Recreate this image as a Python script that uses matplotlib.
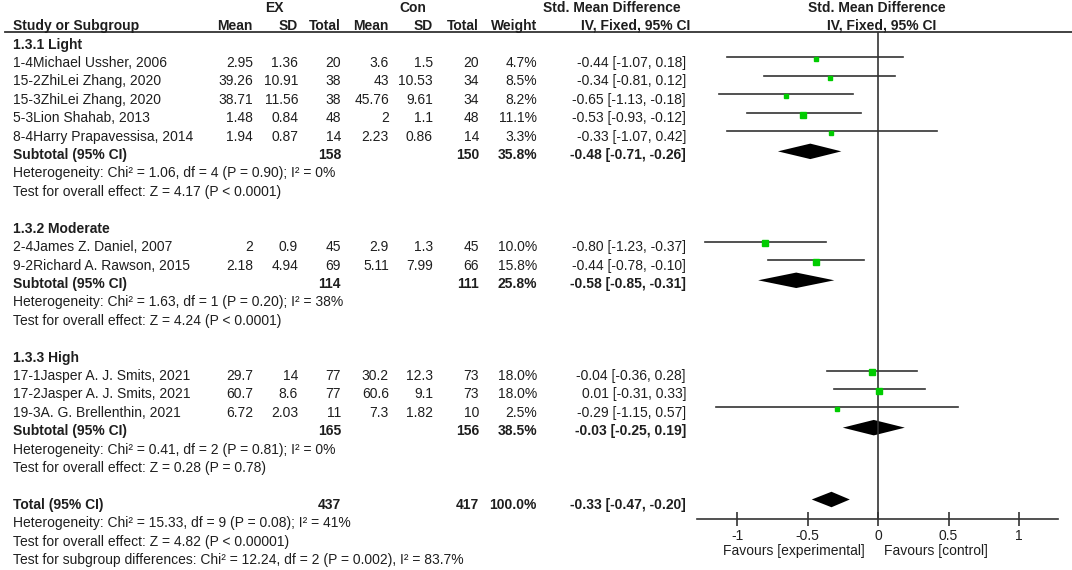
import numpy as np
import matplotlib.pyplot as plt

plt.rcParams['font.family'] = ['Liberation Sans', 'DejaVu Sans']
plt.rcParams['axes.unicode_minus'] = False

# study level data
studies = ["1-4Michael Ussher, 2006", "15-2ZhiLei Zhang, 2020", "15-3ZhiLei Zhang, 2020",
           "5-3Lion Shahab, 2013", "8-4Harry Prapavessisa, 2014",
           "2-4James Z. Daniel, 2007", "9-2Richard A. Rawson, 2015",
           "17-1Jasper A. J. Smits, 2021", "17-2Jasper A. J. Smits, 2021", "19-3A. G. Brellenthin, 2021"]
group = [0, 0, 0, 0, 0, 1, 1, 2, 2, 2]
ex_mean = [2.95, 39.26, 38.71, 1.48, 1.94, 2, 2.18, 29.7, 60.7, 6.72]
ex_sd = [1.36, 10.91, 11.56, 0.84, 0.87, 0.9, 4.94, 14, 8.6, 2.03]
ex_n = [20, 38, 38, 48, 14, 45, 69, 77, 77, 11]
con_mean = [3.6, 43, 45.76, 2, 2.23, 2.9, 5.11, 30.2, 60.6, 7.3]
con_sd = [1.5, 10.53, 9.61, 1.1, 0.86, 1.3, 7.99, 12.3, 9.1, 1.82]
con_n = [20, 34, 34, 48, 14, 45, 66, 73, 73, 10]
weight = [4.7, 8.5, 8.2, 11.1, 3.3, 10.0, 15.8, 18.0, 18.0, 2.5]
smd = [-0.44, -0.34, -0.65, -0.53, -0.33, -0.80, -0.44, -0.04, 0.01, -0.29]
ci_lo = [-1.07, -0.81, -1.13, -0.93, -1.07, -1.23, -0.78, -0.36, -0.31, -1.15]
ci_hi = [0.18, 0.12, -0.18, -0.12, 0.42, -0.37, -0.10, 0.28, 0.33, 0.57]

# subgroup data
groups = ["1.3.1 Light", "1.3.2 Moderate", "1.3.3 High"]
sub_ex_n = [158, 114, 165]
sub_con_n = [150, 111, 156]
sub_w = [35.8, 25.8, 38.5]
sub_est = [-0.48, -0.58, -0.03]
sub_lo = [-0.71, -0.85, -0.25]
sub_hi = [-0.26, -0.31, 0.19]
sub_het = ["Heterogeneity: Chi\u00b2 = 1.06, df = 4 (P = 0.90); I\u00b2 = 0%",
           "Heterogeneity: Chi\u00b2 = 1.63, df = 1 (P = 0.20); I\u00b2 = 38%",
           "Heterogeneity: Chi\u00b2 = 0.41, df = 2 (P = 0.81); I\u00b2 = 0%"]
sub_test = ["Test for overall effect: Z = 4.17 (P < 0.0001)",
            "Test for overall effect: Z = 4.24 (P < 0.0001)",
            "Test for overall effect: Z = 0.28 (P = 0.78)"]

# overall
tot_ex_n, tot_con_n, tot_w = 437, 417, 100.0
tot_est, tot_lo, tot_hi = -0.33, -0.47, -0.20
tot_notes = ["Heterogeneity: Chi\u00b2 = 15.33, df = 9 (P = 0.08); I\u00b2 = 41%",
             "Test for overall effect: Z = 4.82 (P < 0.00001)",
             "Test for subgroup differences: Chi\u00b2 = 12.24, df = 2 (P = 0.002), I\u00b2 = 83.7%"]

xticks = [-1, -0.5, 0, 0.5, 1]
xticklabels = ["-1", "-0.5", "0", "0.5", "1"]

W, H = 1072, 570
fig = plt.figure(figsize=(W / 100, H / 100), dpi=100)
ax0 = fig.add_axes([0, 0, 1, 1])
ax0.set_xlim(0, W)
ax0.set_ylim(H, 0)
ax0.axis('off')

FS = 10
TXT = '#1e1e1e'
GREEN = '#00cc00'
Y0, PITCH = 43.5, 18.42

# column right edges (pixels)
cols = [253, 298, 341, 389, 433, 479, 537]
eff_x = 686


def ypix(i):
    return Y0 + PITCH * i + 5


def put(x, i, s, ha='left', bold=False):
    ax0.text(x, ypix(i), s, ha=ha, va='baseline', fontsize=FS, color=TXT,
             fontweight='bold' if bold else 'normal')


# headers
ax0.text(274, 12, "EX", ha='center', va='baseline', fontsize=FS, fontweight='bold', color=TXT)
ax0.text(413, 12, "Con", ha='center', va='baseline', fontsize=FS, fontweight='bold', color=TXT)
ax0.text(681, 12, "Std. Mean Difference", ha='right', va='baseline', fontsize=FS, fontweight='bold', color=TXT)
ax0.text(877, 12, "Std. Mean Difference", ha='center', va='baseline', fontsize=FS, fontweight='bold', color=TXT)
ax0.text(13, 30, "Study or Subgroup", ha='left', va='baseline', fontsize=FS, fontweight='bold', color=TXT)
for x, s in zip(cols, ["Mean", "SD", "Total", "Mean", "SD", "Total", "Weight"]):
    ax0.text(x, 30, s, ha='right', va='baseline', fontsize=FS, fontweight='bold', color=TXT)
ax0.text(690, 30, "IV, Fixed, 95% CI", ha='right', va='baseline', fontsize=FS, fontweight='bold', color=TXT)
ax0.text(882, 30, "IV, Fixed, 95% CI", ha='center', va='baseline', fontsize=FS, fontweight='bold', color=TXT)
ax0.plot([5, W], [31.5, 31.5], color='#333333', lw=1.3)

# forest axes
x_left, x_right, y_top, y_bot = 697, 1058, 31.5, 519
ax = fig.add_axes([x_left / W, 1 - y_bot / H, (x_right - x_left) / W, (y_bot - y_top) / H])
ax.set_xlim((x_left - 878) / 141, (x_right - 878) / 141)
off = 4.5
ax.set_ylim((y_bot - Y0 + off) / PITCH, (y_top - Y0 + off) / PITCH)
ax.patch.set_alpha(0)
for s in ['top', 'left', 'right']:
    ax.spines[s].set_visible(False)
ax.spines['bottom'].set_color('#333333')
ax.spines['bottom'].set_linewidth(1.2)
ax.set_yticks([])
ax.set_xticks(xticks)
ax.set_xticklabels(xticklabels, fontsize=FS, color=TXT)
ax.tick_params(axis='x', direction='inout', length=10, width=1.2, color='#333333', pad=2)
ax.axvline(0, color='#333333', lw=1.2)

row = 0
for g in range(len(groups)):
    put(13, row, groups[g], bold=True)
    row += 1
    for k in [j for j in range(len(studies)) if group[j] == g]:
        put(13, row, studies[k])
        vals = [f"{ex_mean[k]:g}", f"{ex_sd[k]:g}", f"{ex_n[k]}",
                f"{con_mean[k]:g}", f"{con_sd[k]:g}", f"{con_n[k]}", f"{weight[k]:.1f}%"]
        for x, s in zip(cols, vals):
            put(x, row, s, ha='right')
        put(eff_x, row, f"{smd[k]:.2f} [{ci_lo[k]:.2f}, {ci_hi[k]:.2f}]", ha='right')
        ax.plot([ci_lo[k], ci_hi[k]], [row, row], color='#333333', lw=1.2)
        ax.plot(smd[k], row + 0.1, marker='s', color=GREEN, mec=GREEN,
                ms=0.72 * (1.2 + 1.25 * np.sqrt(weight[k])))
        row += 1
    put(13, row, "Subtotal (95% CI)", bold=True)
    put(cols[2], row, f"{sub_ex_n[g]}", ha='right', bold=True)
    put(cols[5], row, f"{sub_con_n[g]}", ha='right', bold=True)
    put(cols[6], row, f"{sub_w[g]:.1f}%", ha='right', bold=True)
    put(eff_x, row, f"{sub_est[g]:.2f} [{sub_lo[g]:.2f}, {sub_hi[g]:.2f}]", ha='right', bold=True)
    ax.fill([sub_lo[g], sub_est[g], sub_hi[g], sub_est[g]],
            [row + 0.1, row - 0.32, row + 0.1, row + 0.52], color='black', lw=0)
    row += 1
    put(13, row, sub_het[g])
    row += 1
    put(13, row, sub_test[g])
    row += 2

put(13, row, "Total (95% CI)", bold=True)
put(cols[2], row, f"{tot_ex_n}", ha='right', bold=True)
put(cols[5], row, f"{tot_con_n}", ha='right', bold=True)
put(cols[6], row, f"{tot_w:.1f}%", ha='right', bold=True)
put(eff_x, row, f"{tot_est:.2f} [{tot_lo:.2f}, {tot_hi:.2f}]", ha='right', bold=True)
ax.fill([tot_lo, tot_est, tot_hi, tot_est],
        [row, row - 0.42, row, row + 0.42], color='black', lw=0)
for n in tot_notes:
    row += 1
    put(13, row, n)

ax0.text(865, 555, "Favours [experimental]", ha='right', va='baseline', fontsize=FS, color=TXT)
ax0.text(884, 555, "Favours [control]", ha='left', va='baseline', fontsize=FS, color=TXT)

fig.savefig("out.png", dpi=100)
